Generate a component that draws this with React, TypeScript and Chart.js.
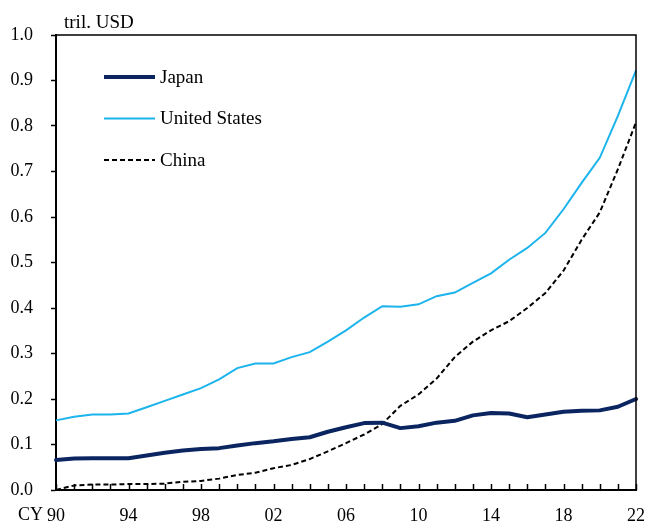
import React, { useEffect, useRef } from 'react';
import { Chart, registerables } from 'chart.js';

Chart.register(...registerables);

const years = [
  1990, 1991, 1992, 1993, 1994, 1995, 1996, 1997, 1998, 1999, 2000,
  2001, 2002, 2003, 2004, 2005, 2006, 2007, 2008, 2009, 2010, 2011,
  2012, 2013, 2014, 2015, 2016, 2017, 2018, 2019, 2020, 2021, 2022,
];

const japan = [
  0.066, 0.069, 0.070, 0.070, 0.070, 0.076, 0.082, 0.087, 0.090, 0.092, 0.098,
  0.103, 0.107, 0.112, 0.116, 0.128, 0.138, 0.147, 0.148, 0.136, 0.140, 0.148,
  0.152, 0.164, 0.169, 0.168, 0.160, 0.166, 0.172, 0.174, 0.175, 0.183, 0.200,
];

const unitedStates = [
  0.153, 0.161, 0.166, 0.166, 0.168, 0.182, 0.196, 0.210, 0.224, 0.243, 0.268,
  0.278, 0.278, 0.292, 0.303, 0.326, 0.351, 0.379, 0.404, 0.403, 0.408, 0.426,
  0.434, 0.455, 0.476, 0.506, 0.532, 0.565, 0.617, 0.675, 0.730, 0.822, 0.922,
];

const china = [
  0.000, 0.010, 0.012, 0.012, 0.013, 0.013, 0.014, 0.018, 0.020, 0.025, 0.033,
  0.038, 0.048, 0.055, 0.068, 0.085, 0.103, 0.122, 0.145, 0.185, 0.210, 0.245,
  0.292, 0.326, 0.351, 0.371, 0.400, 0.433, 0.482, 0.550, 0.610, 0.705, 0.808,
];

const xTickLabels = ['90', '94', '98', '02', '06', '10', '14', '18', '22'];
const xPrefix = 'CY';
const unitLabel = 'tril. USD';
const seriesNames = ['Japan', 'United States', 'China'];

const FONT = '"Liberation Serif", "Times New Roman", serif';

const decorPlugin = {
  id: 'decor',
  afterDraw(chart: any) {
    const { ctx, chartArea: a, scales } = chart;
    const xs = scales.x;
    ctx.save();
    // top and right frame
    ctx.strokeStyle = '#000';
    ctx.lineWidth = 1.5;
    ctx.beginPath();
    ctx.moveTo(a.left, a.top);
    ctx.lineTo(a.right, a.top);
    ctx.lineTo(a.right, a.bottom);
    ctx.stroke();
    // inner tick marks on x axis
    ctx.lineWidth = 1.5;
    for (let i = 0; i < years.length; i++) {
      const px = Math.round(xs.getPixelForValue(i)) + 0.5;
      ctx.beginPath();
      ctx.moveTo(px, a.bottom);
      ctx.lineTo(px, a.bottom - 6);
      ctx.stroke();
    }
    // unit label
    ctx.fillStyle = '#000';
    ctx.font = `19px ${FONT}`;
    ctx.textAlign = 'left';
    ctx.textBaseline = 'alphabetic';
    ctx.fillText(unitLabel, a.left + 8, a.top - 7);
    // CY prefix
    ctx.font = `18px ${FONT}`;
    ctx.textAlign = 'right';
    ctx.fillText(xPrefix, xs.getPixelForValue(0) - 13, 520);
    // legend
    ctx.font = `19px ${FONT}`;
    ctx.textAlign = 'left';
    ctx.textBaseline = 'middle';
    chart.data.datasets.forEach((ds: any, i: number) => {
      const y = a.top + 42 + i * 41.5;
      ctx.strokeStyle = ds.borderColor;
      ctx.lineWidth = ds.borderWidth;
      ctx.setLineDash(ds.borderDash || []);
      ctx.beginPath();
      ctx.moveTo(a.left + 48, y);
      ctx.lineTo(a.left + 99, y);
      ctx.stroke();
      ctx.setLineDash([]);
      ctx.fillText(ds.label, a.left + 104, y + 1);
    });
    ctx.restore();
  },
};

export default function App() {
  const ref = useRef<HTMLCanvasElement>(null);
  useEffect(() => {
    document.body.style.margin = '0';
    const canvas = ref.current;
    if (!canvas) return;
    const chart = new Chart(canvas, {
      type: 'line',
      data: {
        labels: years.map(String),
        datasets: [
          {
            label: seriesNames[0],
            data: japan,
            borderColor: '#0b2561',
            borderWidth: 4,
            pointRadius: 0,
            tension: 0,
            borderCapStyle: 'round',
            borderJoinStyle: 'round',
          },
          {
            label: seriesNames[1],
            data: unitedStates,
            borderColor: '#1cb4ec',
            borderWidth: 2,
            pointRadius: 0,
            tension: 0,
          },
          {
            label: seriesNames[2],
            data: china,
            borderColor: '#000000',
            borderWidth: 2,
            borderDash: [5, 3],
            pointRadius: 0,
            tension: 0,
          },
        ],
      },
      options: {
        responsive: false,
        animation: false,
        layout: { padding: { top: 35, right: 13, left: 0, bottom: 0 } },
        plugins: {
          legend: { display: false },
          tooltip: { enabled: false },
        },
        scales: {
          x: {
            type: 'category',
            offset: false,
            grid: { display: true, drawOnChartArea: false, drawTicks: false, offset: false },
            border: { display: true, color: '#000', width: 2 },
            ticks: {
              autoSkip: false,
              maxRotation: 0,
              minRotation: 0,
              padding: 15,
              color: '#000',
              font: { family: FONT, size: 18 },
              callback: (_v: any, i: number) => (i % 4 === 0 ? xTickLabels[i / 4] : ''),
            },
            afterFit: (s: any) => {
              s.height = 33;
              s.paddingLeft = 0;
              s.paddingRight = 0;
            },
          },
          y: {
            min: 0,
            max: 1,
            grid: { drawOnChartArea: false, drawTicks: true, tickLength: 5, tickColor: '#000', tickWidth: 1.5 },
            border: { display: true, color: '#000', width: 2 },
            ticks: {
              stepSize: 0.1,
              padding: 18,
              color: '#000',
              font: { family: FONT, size: 18 },
              callback: (v: any) => Number(v).toFixed(1),
            },
            afterFit: (s: any) => {
              s.width = 56;
              s.paddingTop = 0;
              s.paddingBottom = 0;
            },
          },
        },
      },
      plugins: [decorPlugin],
    } as any);
    return () => chart.destroy();
  }, []);
  return (
    <div style={{ width: 649, height: 523 }}>
      <canvas ref={ref} width={649} height={523} style={{ display: 'block' }} />
    </div>
  );
}
